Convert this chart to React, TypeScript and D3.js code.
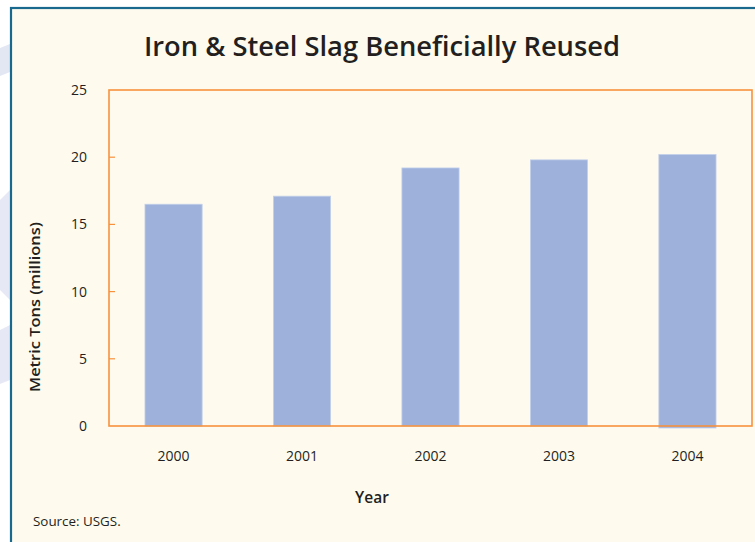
import React from "react";
import * as d3 from "d3";

const years = ["2000", "2001", "2002", "2003", "2004"];
const values = [16.5, 17.1, 19.2, 19.8, 20.2];
const yTicks = [0, 5, 10, 15, 20, 25];

const W = 755;
const H = 542;
const plot = { left: 109, right: 752, top: 90, bottom: 426 };

export default function App() {
  const x = d3
    .scaleBand<string>()
    .domain(years)
    .range([plot.left, plot.right])
    .paddingInner(0.555)
    .paddingOuter(0.28);
  const y = d3.scaleLinear().domain([0, 25]).range([plot.bottom, plot.top]);
  const font = "'Open Sans', 'DejaVu Sans', sans-serif";

  return (
    <svg
      width={W}
      height={H}
      style={{ position: "absolute", left: 0, top: 0, display: "block" }}
    >
      <rect x={0} y={0} width={W} height={H} fill="#ffffff" />
      {/* faint decorative shapes in the left strip */}
      <polygon points="0,48 10,44 10,72 0,76" fill="#e3e7f4" />
      <polygon points="0,200 10,190 10,300 0,290" fill="#e6e9f5" />
      <polygon points="0,330 10,325 10,380 0,384" fill="#e6e9f5" />
      {/* frame */}
      <rect x={11} y={8} width={W} height={H} fill="#fefbee" stroke="#19698f" strokeWidth={2.2} />

      <text
        x={382}
        y={56}
        textAnchor="middle"
        fontFamily={font}
        fontWeight={600}
        fontSize={27}
        fill="#231f20"
        textLength={476}
        lengthAdjust="spacingAndGlyphs"
      >
        Iron &amp; Steel Slag Beneficially Reused
      </text>

      {/* bars */}
      {years.map((yr, i) => (
        <rect
          key={yr}
          x={x(yr)}
          y={y(values[i])}
          width={x.bandwidth()}
          height={y(0) - y(values[i]) + (i === 4 ? 2 : 0)}
          fill="#9db1db"
          stroke="#c3cfea"
          strokeWidth={0.8}
        />
      ))}

      {/* plot border */}
      <rect
        x={plot.left}
        y={plot.top}
        width={plot.right - plot.left}
        height={plot.bottom - plot.top}
        fill="none"
        stroke="#f7913d"
        strokeWidth={1.6}
      />

      {/* y ticks */}
      {yTicks.map((t) => (
        <g key={t}>
          {t > 0 && t < 25 && (
            <line x1={plot.left} x2={plot.left + 6} y1={y(t)} y2={y(t)} stroke="#f7913d" strokeWidth={1.2} />
          )}
          <text
            x={87}
            y={y(t)}
            dy="0.35em"
            textAnchor="end"
            fontFamily={font}
            fontSize={14}
            fill="#231f20"
          >
            {t}
          </text>
        </g>
      ))}

      {/* x labels */}
      {years.map((yr) => (
        <text
          key={yr}
          x={(x(yr) as number) + x.bandwidth() / 2}
          y={461}
          textAnchor="middle"
          fontFamily={font}
          fontSize={14}
          fill="#231f20"
        >
          {yr}
        </text>
      ))}

      <text
        x={372}
        y={503}
        textAnchor="middle"
        fontFamily={font}
        fontWeight={600}
        fontSize={15.5}
        fill="#231f20"
      >
        Year
      </text>

      <text
        transform={`translate(40,307) rotate(-90)`}
        textAnchor="middle"
        fontFamily={font}
        fontWeight={600}
        fontSize={15}
        fill="#231f20"
        textLength={170}
        lengthAdjust="spacingAndGlyphs"
      >
        Metric Tons (millions)
      </text>

      <text x={33} y={526} fontFamily={font} fontSize={13.4} fill="#231f20">
        Source: USGS.
      </text>
    </svg>
  );
}
